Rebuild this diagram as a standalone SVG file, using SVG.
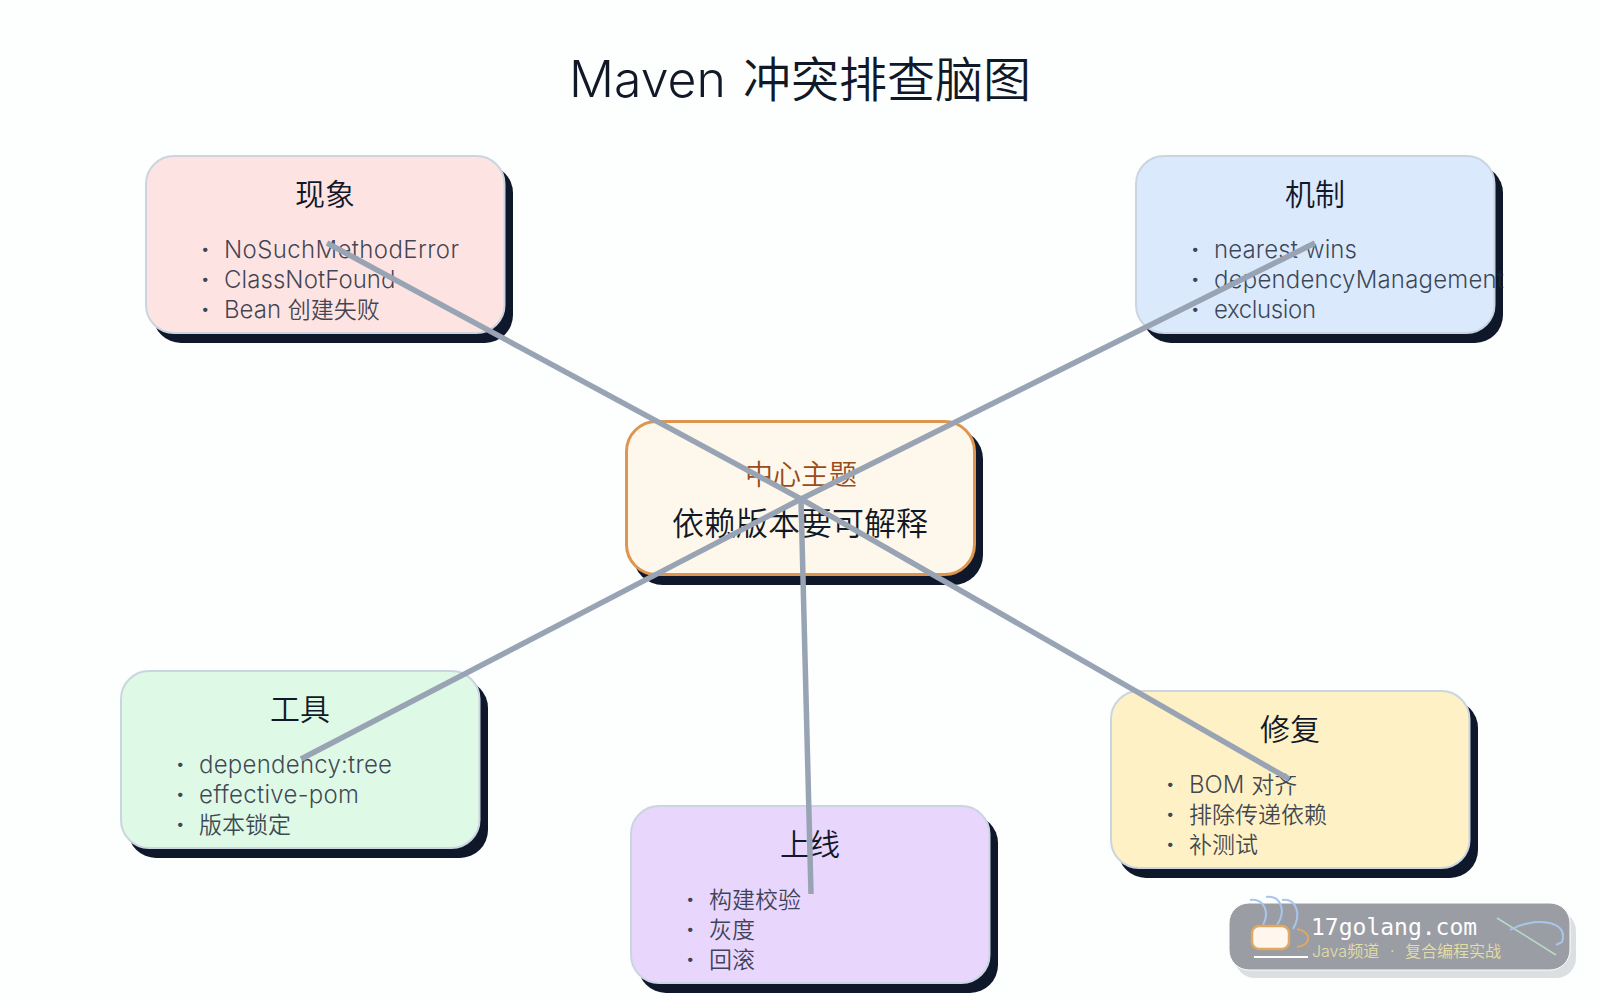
<svg xmlns="http://www.w3.org/2000/svg" width="1600" height="1000" viewBox="0 0 1600 1000">
<style>
text{font-family:Inter,"Noto Sans CJK SC",sans-serif;font-weight:350}
.sh{fill:#0f172a}
.box{stroke:#cbd5e1;stroke-width:2}
.t{font-size:30px;fill:#111827;text-anchor:middle}
.i{font-size:24px;fill:#1e293b;fill-opacity:.85}
.c{font-size:23px}
.b{font-weight:800}
.con{stroke:#98a3b4;stroke-width:5.500;fill:none}
</style>
<rect width="1600" height="1000" fill="#fdfefe"/>
<text x="569" y="97" font-size="50" fill="#111827">Maven<tspan x="743" font-size="48">冲突排查脑图</tspan></text>
<g id="node-center">
<rect class="sh" x="633" y="429" width="350" height="156" rx="30"/>
<rect x="626.500" y="421.500" width="348" height="153" rx="30" fill="#fef8ec" stroke="#dd9550" stroke-width="3"/>
<text x="801" y="485" font-size="28" fill="#9a4a20" text-anchor="middle">中心主题</text>
<text x="800" y="535" font-size="32" fill="#111827" text-anchor="middle">依赖版本要可解释</text>
</g>
<g id="node-xianxiang">
<rect class="sh" x="153" y="165" width="360" height="178" rx="28"/>
<rect class="box" x="146" y="156" width="358.500" height="177" rx="28" fill="#fde3e1"/>
<text class="t" x="325" y="205">现象</text>
<text class="i b" x="201" y="258">·</text><text class="i" x="224" y="258" textLength="235">NoSuchMethodError</text>
<text class="i b" x="201" y="288">·</text><text class="i" x="224" y="288" textLength="171.500">ClassNotFound</text>
<text class="i b" x="201" y="318">·</text><text class="i" x="224" y="318">Bean <tspan class="c">创建失败</tspan></text>
</g>
<g id="node-jizhi">
<rect class="sh" x="1143" y="165" width="360" height="178" rx="28"/>
<rect class="box" x="1136" y="156" width="358.500" height="177" rx="28" fill="#dbe9fd"/>
<text class="t" x="1315" y="205">机制</text>
<text class="i b" x="1191" y="258">·</text><text class="i" x="1214" y="258" textLength="143">nearest wins</text>
<text class="i b" x="1191" y="288">·</text><text class="i" x="1214" y="288" textLength="290">dependencyManagement</text>
<text class="i b" x="1191" y="318">·</text><text class="i" x="1214" y="318" textLength="102">exclusion</text>
</g>
<g id="node-gongju">
<rect class="sh" x="128" y="680" width="360" height="178" rx="28"/>
<rect class="box" x="121" y="671" width="358.500" height="177" rx="28" fill="#def9e5"/>
<text class="t" x="300" y="720">工具</text>
<text class="i b" x="176" y="773">·</text><text class="i" x="199" y="773" textLength="193">dependency:tree</text>
<text class="i b" x="176" y="803">·</text><text class="i" x="199" y="803" textLength="160">effective-pom</text>
<text class="i b" x="176" y="833">·</text><text class="i c" x="199" y="833">版本锁定</text>
</g>
<g id="node-shangxian">
<rect class="sh" x="638" y="815" width="360" height="178" rx="28"/>
<rect class="box" x="631" y="806" width="358.500" height="177" rx="28" fill="#e8d6fd"/>
<text class="t" x="810" y="855">上线</text>
<text class="i b" x="686" y="908">·</text><text class="i c" x="709" y="908">构建校验</text>
<text class="i b" x="686" y="938">·</text><text class="i c" x="709" y="938">灰度</text>
<text class="i b" x="686" y="968">·</text><text class="i c" x="709" y="968">回滚</text>
</g>
<g id="node-xiufu">
<rect class="sh" x="1118" y="700" width="360" height="178" rx="28"/>
<rect class="box" x="1111" y="691" width="358.500" height="177" rx="28" fill="#fdf1c5"/>
<text class="t" x="1290" y="740">修复</text>
<text class="i b" x="1166" y="793">·</text><text class="i" x="1189" y="793">BOM <tspan class="c">对齐</tspan></text>
<text class="i b" x="1166" y="823">·</text><text class="i c" x="1189" y="823">排除传递依赖</text>
<text class="i b" x="1166" y="853">·</text><text class="i c" x="1189" y="853">补测试</text>
</g>
<g id="connectors">
<line class="con" x1="801" y1="499" x2="327" y2="243"/>
<line class="con" x1="801" y1="499" x2="1315" y2="243"/>
<line class="con" x1="801" y1="499" x2="301" y2="759"/>
<line class="con" x1="801" y1="499" x2="811" y2="894"/>
<line class="con" x1="801" y1="499" x2="1289" y2="779"/>
</g>
<g id="watermark">
<rect x="1235" y="911" width="341" height="67" rx="20" fill="#dcdfe2"/>
<rect x="1229" y="903" width="341" height="67" rx="20" fill="#9a9da4" stroke="#fff" stroke-width="1"/>
<g fill="none" stroke="#a9c6ea" stroke-width="2">
<path d="M1250 900C1264 898 1270 912 1263 925"/>
<path d="M1266 897C1280 895 1287 910 1277 925"/>
<path d="M1282 900C1296 898 1302 914 1293 929"/>
</g>
<rect x="1252" y="926" width="37" height="23" rx="7" fill="#fff7ed" stroke="#e0a860" stroke-width="2.500"/>
<path d="M1297 929C1312 932 1312 945 1297 947" fill="none" stroke="#e0a860" stroke-width="2"/>
<line x1="1254" y1="957" x2="1308" y2="957" stroke="#fff" stroke-width="2"/>
<text x="1311" y="935" font-size="23" fill="#fff" style="font-family:'DejaVu Sans Mono',monospace;font-weight:400">17golang.com</text>
<text x="1312" y="957" font-size="16" fill="#e4dfa4">Java频道<tspan x="1390">·</tspan><tspan x="1405">复合编程实战</tspan></text>
<line x1="1497" y1="918" x2="1556" y2="955" stroke="#b4dcc8" stroke-width="1.500"/>
<path d="M1510 930C1530 918 1570 918 1562 942L1556 945" fill="none" stroke="#a9c6ea" stroke-width="2"/>
</g>
</svg>
